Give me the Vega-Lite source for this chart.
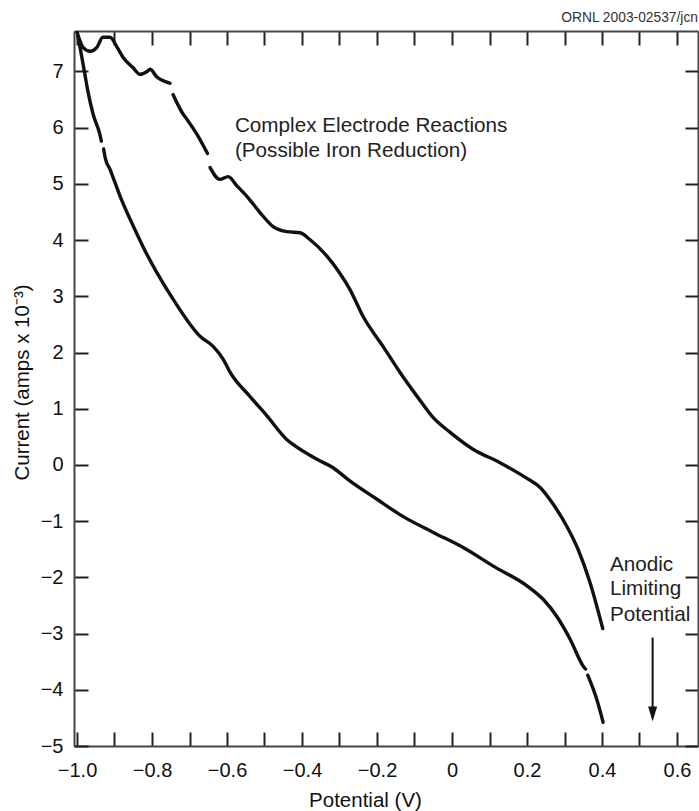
{
  "$schema": "https://vega.github.io/schema/vega-lite/v6.json",
  "width": 624,
  "height": 715,
  "autosize": "none",
  "padding": {"left": 74, "top": 31, "right": 1, "bottom": 65},
  "background": "white",
  "config": {
    "font": "Liberation Sans",
    "view": {"stroke": null}
  },
  "datasets": {
    "curves": [
      {"potential": -1.000, "current": 7.70, "seg": "u1"},
      {"potential": -0.984, "current": 7.43, "seg": "u1"},
      {"potential": -0.965, "current": 7.36, "seg": "u1"},
      {"potential": -0.947, "current": 7.43, "seg": "u1"},
      {"potential": -0.931, "current": 7.61, "seg": "u1"},
      {"potential": -0.912, "current": 7.61, "seg": "u1"},
      {"potential": -0.893, "current": 7.43, "seg": "u1"},
      {"potential": -0.877, "current": 7.25, "seg": "u1"},
      {"potential": -0.851, "current": 7.07, "seg": "u1"},
      {"potential": -0.832, "current": 6.95, "seg": "u1"},
      {"potential": -0.813, "current": 7.00, "seg": "u1"},
      {"potential": -0.805, "current": 7.04, "seg": "u1"},
      {"potential": -0.787, "current": 6.90, "seg": "u1"},
      {"potential": -0.760, "current": 6.81, "seg": "u1"},
      {"potential": -0.752, "current": 6.79, "seg": "u1"},
      {"potential": -0.744, "current": 6.59, "seg": "u2"},
      {"potential": -0.731, "current": 6.41, "seg": "u2"},
      {"potential": -0.717, "current": 6.24, "seg": "u2"},
      {"potential": -0.707, "current": 6.15, "seg": "u2"},
      {"potential": -0.680, "current": 5.88, "seg": "u2"},
      {"potential": -0.652, "current": 5.54, "seg": "u2"},
      {"potential": -0.645, "current": 5.29, "seg": "u3"},
      {"potential": -0.619, "current": 5.08, "seg": "u3"},
      {"potential": -0.597, "current": 5.13, "seg": "u3"},
      {"potential": -0.573, "current": 4.96, "seg": "u3"},
      {"potential": -0.547, "current": 4.78, "seg": "u3"},
      {"potential": -0.512, "current": 4.49, "seg": "u3"},
      {"potential": -0.477, "current": 4.24, "seg": "u3"},
      {"potential": -0.440, "current": 4.15, "seg": "u3"},
      {"potential": -0.405, "current": 4.13, "seg": "u3"},
      {"potential": -0.379, "current": 4.01, "seg": "u3"},
      {"potential": -0.333, "current": 3.71, "seg": "u3"},
      {"potential": -0.300, "current": 3.42, "seg": "u3"},
      {"potential": -0.272, "current": 3.12, "seg": "u3"},
      {"potential": -0.237, "current": 2.64, "seg": "u3"},
      {"potential": -0.184, "current": 2.11, "seg": "u3"},
      {"potential": -0.139, "current": 1.65, "seg": "u3"},
      {"potential": -0.093, "current": 1.22, "seg": "u3"},
      {"potential": -0.050, "current": 0.84, "seg": "u3"},
      {"potential": -0.005, "current": 0.58, "seg": "u3"},
      {"potential": 0.056, "current": 0.28, "seg": "u3"},
      {"potential": 0.128, "current": 0.04, "seg": "u3"},
      {"potential": 0.200, "current": -0.24, "seg": "u3"},
      {"potential": 0.235, "current": -0.40, "seg": "u3"},
      {"potential": 0.270, "current": -0.70, "seg": "u3"},
      {"potential": 0.306, "current": -1.09, "seg": "u3"},
      {"potential": 0.336, "current": -1.50, "seg": "u3"},
      {"potential": 0.368, "current": -2.09, "seg": "u3"},
      {"potential": 0.402, "current": -2.91, "seg": "u3"},
      {"potential": -0.997, "current": 7.61, "seg": "l1"},
      {"potential": -0.987, "current": 7.25, "seg": "l1"},
      {"potential": -0.979, "current": 6.95, "seg": "l1"},
      {"potential": -0.971, "current": 6.65, "seg": "l1"},
      {"potential": -0.957, "current": 6.24, "seg": "l1"},
      {"potential": -0.939, "current": 5.88, "seg": "l1"},
      {"potential": -0.935, "current": 5.76, "seg": "l1"},
      {"potential": -0.929, "current": 5.62, "seg": "l2"},
      {"potential": -0.925, "current": 5.47, "seg": "l2"},
      {"potential": -0.912, "current": 5.26, "seg": "l2"},
      {"potential": -0.885, "current": 4.78, "seg": "l2"},
      {"potential": -0.850, "current": 4.25, "seg": "l2"},
      {"potential": -0.823, "current": 3.87, "seg": "l2"},
      {"potential": -0.787, "current": 3.42, "seg": "l2"},
      {"potential": -0.743, "current": 2.94, "seg": "l2"},
      {"potential": -0.672, "current": 2.29, "seg": "l2"},
      {"potential": -0.637, "current": 2.11, "seg": "l2"},
      {"potential": -0.610, "current": 1.88, "seg": "l2"},
      {"potential": -0.592, "current": 1.65, "seg": "l2"},
      {"potential": -0.539, "current": 1.22, "seg": "l2"},
      {"potential": -0.493, "current": 0.87, "seg": "l2"},
      {"potential": -0.440, "current": 0.45, "seg": "l2"},
      {"potential": -0.423, "current": 0.36, "seg": "l2"},
      {"potential": -0.360, "current": 0.10, "seg": "l2"},
      {"potential": -0.317, "current": -0.05, "seg": "l2"},
      {"potential": -0.277, "current": -0.26, "seg": "l2"},
      {"potential": -0.200, "current": -0.61, "seg": "l2"},
      {"potential": -0.130, "current": -0.92, "seg": "l2"},
      {"potential": -0.050, "current": -1.20, "seg": "l2"},
      {"potential": 0.030, "current": -1.47, "seg": "l2"},
      {"potential": 0.110, "current": -1.80, "seg": "l2"},
      {"potential": 0.200, "current": -2.15, "seg": "l2"},
      {"potential": 0.243, "current": -2.39, "seg": "l2"},
      {"potential": 0.280, "current": -2.70, "seg": "l2"},
      {"potential": 0.315, "current": -3.10, "seg": "l2"},
      {"potential": 0.350, "current": -3.58, "seg": "l2"},
      {"potential": 0.356, "current": -3.63, "seg": "l2"},
      {"potential": 0.362, "current": -3.74, "seg": "l3"},
      {"potential": 0.386, "current": -4.17, "seg": "l3"},
      {"potential": 0.403, "current": -4.58, "seg": "l3"}
    ],
    "notes": [
      {"x": -0.579, "y": 5.92, "text": "Complex Electrode Reactions"},
      {"x": -0.579, "y": 5.47, "text": "(Possible Iron Reduction)"},
      {"x": 0.421, "y": -1.88, "text": "Anodic"},
      {"x": 0.421, "y": -2.32, "text": "Limiting"},
      {"x": 0.421, "y": -2.77, "text": "Potential"}
    ],
    "credit": [
      {"x": 0.656, "y": 7.885, "text": "ORNL 2003-02537/jcn"}
    ],
    "arrow": [
      {"x": 0.535, "y": -3.07, "y2": -4.35, "tip": -4.43}
    ]
  },
  "resolve": {"axis": {"x": "independent", "y": "independent"}},
  "layer": [
    {
      "data": {"name": "curves"},
      "mark": {"type": "line", "color": "#111", "strokeWidth": 3.4, "strokeCap": "round", "strokeJoin": "round", "interpolate": "monotone", "clip": true},
      "encoding": {
        "x": {
          "field": "potential", "type": "quantitative",
          "scale": {"domain": [-1.008, 0.656], "nice": false, "zero": false},
          "axis": {
            "orient": "bottom",
            "title": "Potential (V)",
            "values": [-1.0, -0.9, -0.8, -0.7, -0.6, -0.5, -0.4, -0.3, -0.2, -0.1, 0, 0.1, 0.2, 0.3, 0.4, 0.5, 0.6],
            "labelExpr": "datum.value == 0 ? '0' : (abs(round(datum.value * 10)) % 2 == 0 ? format(datum.value, '.1f') : '')",
            "grid": false,
            "tickSize": -14, "tickWidth": 2, "tickColor": "#222",
            "domainColor": "#444", "domainWidth": 2,
            "labelFont": "Liberation Sans", "labelFontSize": 20, "labelColor": "#111",
            "labelPadding": 28, "labelFlush": false, "labelOverlap": false,
            "titleFont": "Liberation Sans", "titleFontSize": 20.5, "titleFontWeight": "normal", "titleColor": "#111",
            "titleX": 291, "titleY": 44, "titleBaseline": "top", "titleAlign": "center"
          }
        },
        "y": {
          "field": "current", "type": "quantitative",
          "scale": {"domain": [-5, 7.72], "nice": false, "zero": false},
          "axis": {
            "orient": "left",
            "title": "Current (amps x 10⁻³)",
            "values": [-5, -4, -3, -2, -1, 0, 1, 2, 3, 4, 5, 6, 7],
            "format": "d",
            "grid": false,
            "tickSize": -14, "tickWidth": 2, "tickColor": "#222",
            "domainColor": "#444", "domainWidth": 2,
            "labelFont": "Liberation Sans", "labelFontSize": 20, "labelColor": "#111",
            "labelPadding": 25, "labelFlush": false, "labelOverlap": false,
            "titleFont": "Liberation Sans", "titleFontSize": 20.5, "titleFontWeight": "normal", "titleColor": "#111",
            "titleX": -46, "titleY": 351, "titleBaseline": "alphabetic", "titleAlign": "center", "titleAngle": -90
          }
        },
        "detail": {"field": "seg", "type": "nominal"}
      }
    },
    {
      "data": {"name": "arrow"},
      "mark": {"type": "rule", "color": "#111", "strokeWidth": 2},
      "encoding": {
        "x": {
          "field": "x", "type": "quantitative",
          "scale": {"domain": [-1.008, 0.656], "nice": false, "zero": false},
          "axis": {
            "orient": "top", "title": null, "labels": false, "grid": false,
            "values": [-1.0, -0.9, -0.8, -0.7, -0.6, -0.5, -0.4, -0.3, -0.2, -0.1, 0, 0.1, 0.2, 0.3, 0.4, 0.5, 0.6],
            "tickSize": -14, "tickWidth": 2, "tickColor": "#222",
            "domainColor": "#444", "domainWidth": 2
          }
        },
        "y": {
          "field": "y", "type": "quantitative",
          "scale": {"domain": [-5, 7.72], "nice": false, "zero": false},
          "axis": {
            "orient": "right", "title": null, "labels": false, "grid": false,
            "values": [-5, -4, -3, -2, -1, 0, 1, 2, 3, 4, 5, 6, 7],
            "tickSize": -13, "tickWidth": 2, "tickColor": "#222",
            "domainColor": "#444", "domainWidth": 2
          }
        },
        "y2": {"field": "y2"}
      }
    },
    {
      "data": {"name": "arrow"},
      "mark": {"type": "point", "shape": "M-0.6,-1L0.6,-1L0,1Z", "filled": true, "color": "#111", "size": 225, "opacity": 1},
      "encoding": {
        "x": {"field": "x", "type": "quantitative", "scale": {"domain": [-1.008, 0.656], "nice": false, "zero": false}, "axis": null},
        "y": {"field": "tip", "type": "quantitative", "scale": {"domain": [-5, 7.72], "nice": false, "zero": false}, "axis": null}
      }
    },
    {
      "data": {"name": "notes"},
      "mark": {"type": "text", "align": "left", "baseline": "alphabetic", "font": "Liberation Sans", "fontSize": 20.7, "color": "#222"},
      "encoding": {
        "x": {"field": "x", "type": "quantitative", "scale": {"domain": [-1.008, 0.656], "nice": false, "zero": false}, "axis": null},
        "y": {"field": "y", "type": "quantitative", "scale": {"domain": [-5, 7.72], "nice": false, "zero": false}, "axis": null},
        "text": {"field": "text"}
      }
    },
    {
      "data": {"name": "credit"},
      "mark": {"type": "text", "align": "right", "baseline": "alphabetic", "font": "Liberation Sans", "fontSize": 13.8, "color": "#333"},
      "encoding": {
        "x": {"field": "x", "type": "quantitative", "scale": {"domain": [-1.008, 0.656], "nice": false, "zero": false}, "axis": null},
        "y": {"field": "y", "type": "quantitative", "scale": {"domain": [-5, 7.72], "nice": false, "zero": false}, "axis": null},
        "text": {"field": "text"}
      }
    }
  ]
}
